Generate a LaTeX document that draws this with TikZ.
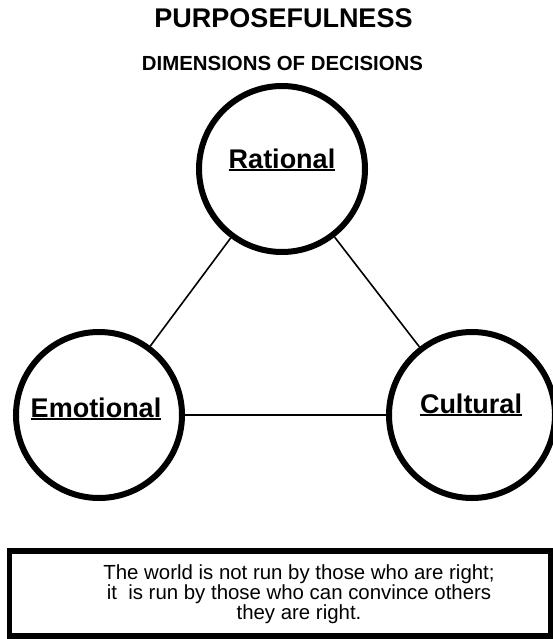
\documentclass[tikz,border=0pt]{standalone}
\usepackage{fontspec}
\setmainfont{Liberation Sans}
\newcommand{\ulabel}[1]{\setbox0=\hbox{#1}\rlap{\rule[-3pt]{\wd0}{2pt}}\box0}
\begin{document}
\begin{tikzpicture}[x=1pt,y=-1pt,
    dimcircle/.style={draw,circle,line width=6pt,minimum size=166pt,inner sep=0pt},
    dimlabel/.style={anchor=base,font=\bfseries\fontsize{27}{32}\selectfont},
    linkline/.style={line width=1.6pt}]
        \useasboundingbox (0,0) rectangle (553,639);

        \node[anchor=base,font=\bfseries\fontsize{27}{32}\selectfont] (title) at (283.5,28) {PURPOSEFULNESS};
        \node[anchor=base,font=\bfseries\fontsize{20.4}{24}\selectfont] (subtitle) at (282.5,71) {DIMENSIONS OF DECISIONS};

        \node[dimcircle] (RA) at (282,169) {};
        \node[dimcircle] (EM) at (99,415) {};
        \node[dimcircle] (CU) at (472,415) {};

        \node[dimlabel] (RAtext) at (282,168) {\ulabel{Rational}};
        \node[dimlabel] (EMtext) at (96,417) {\ulabel{Emotional}};
        \node[dimlabel] (CUtext) at (471,413) {\ulabel{Cultural}};

        \draw[linkline] (RA) -- (EM);
        \draw[linkline] (RA) -- (CU);
        \draw[linkline] (EM) -- (CU);

        \node[draw,line width=5.5pt,minimum width=541pt,minimum height=85pt,inner sep=0pt] (box) at (280,593.5) {};
        \node[align=center,font=\fontsize{20.4}{20}\selectfont] (quote) at (299,594) {The world is not run by those who are right;\\ it\ \ is run by those who can convince others\\ they are right.};
    \end{tikzpicture}
\end{document}
